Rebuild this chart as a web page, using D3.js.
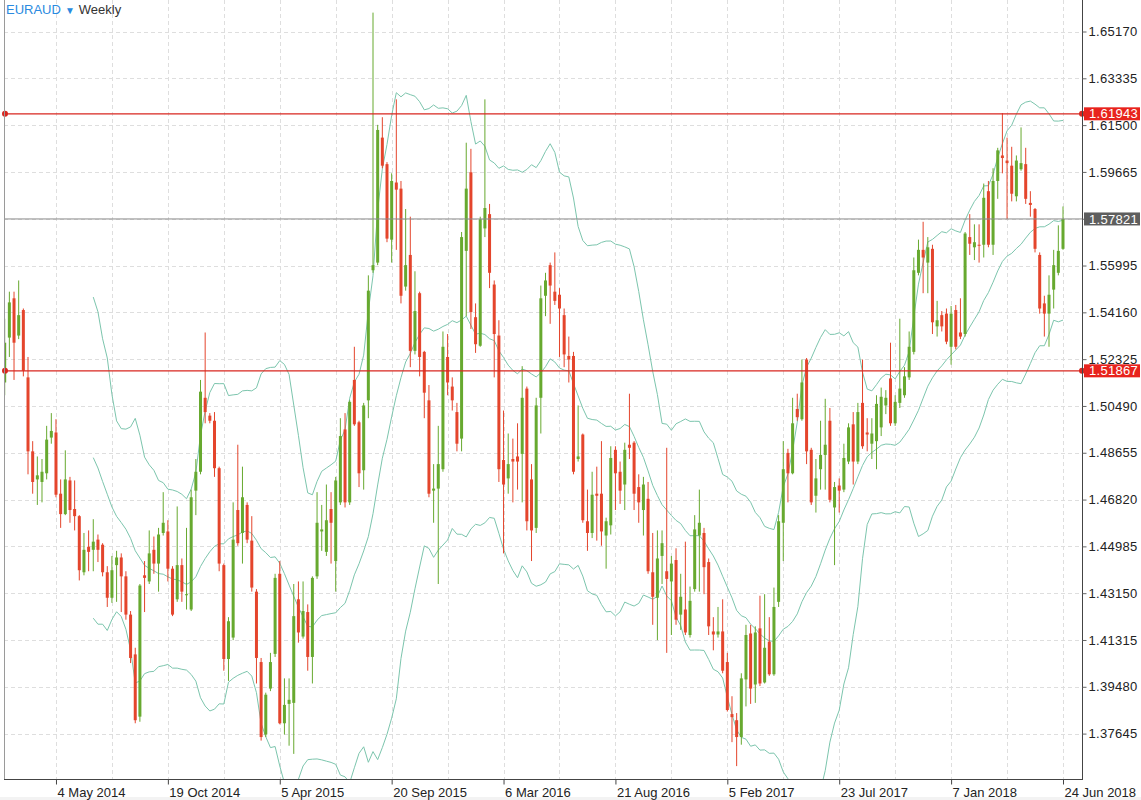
<!DOCTYPE html>
<html><head><meta charset="utf-8">
<script src="https://cdn.jsdelivr.net/npm/d3@7"></script>
<style>
html,body{margin:0;padding:0;background:#fff;}
svg{display:block;font-family:"Liberation Sans",Arial,Helvetica,sans-serif;}
</style></head><body>
<svg id="chart" width="1141" height="800"></svg>
<script>
// ---------- DATA ----------
const symbol = "EURAUD";
const period = "Weekly";
const firstWeek = "16 Feb 2014";   // date of first weekly candle
const open = [
1.5141,1.5317,1.5471,1.5325,1.5425,1.5161,1.4871,1.4761,1.4751,1.4785,1.4925,1.4945,1.4705,1.4625,1.4757,1.4645,1.4617,1.4397,1.4497,1.4485,
1.4525,1.4505,1.4397,1.4297,1.4425,1.4455,1.4381,1.4231,1.4075,1.3831,1.4385,1.4361,1.4485,1.4431,1.4551,1.4557,1.4411,1.4291,1.4425,1.4307,
1.4251,1.4717,1.4791,1.5081,1.5011,1.4991,1.4805,1.4425,1.4057,1.4141,1.4641,1.4551,1.4661,1.4521,1.4321,1.4045,1.3761,1.3941,1.4077,1.4391,
1.3805,1.3881,1.3885,1.4291,1.4145,1.4241,1.4065,1.4381,1.4557,1.4477,1.4645,1.4441,1.4671,1.4957,1.4671,1.5151,1.4985,1.4797,1.5071,1.5581,
1.5611,1.6101,1.5997,1.5701,1.5925,1.5901,1.5517,1.5641,1.5265,1.5491,1.5261,1.5071,1.4717,1.4725,1.4801,1.5241,1.5125,1.5025,1.4921,1.5657,
1.5965,1.5397,1.5285,1.5745,1.5801,1.5525,1.5325,1.4837,1.4765,1.4841,1.4851,1.4861,1.5117,1.4761,1.4571,1.5081,1.5481,1.5601,1.5497,1.5485,
1.5405,1.5245,1.5245,1.4841,1.4937,1.4597,1.4551,1.4705,1.4705,1.4541,1.4581,1.4877,1.4791,1.4741,1.4897,1.4905,1.4731,1.4641,1.4685,1.4397,
1.4297,1.4461,1.4401,1.4361,1.4445,1.4231,1.4251,1.4151,1.4331,1.4541,1.4551,1.4437,1.4165,1.4153,1.4165,1.4045,1.3841,1.3817,1.3751,1.3977,
1.4157,1.3957,1.4177,1.3965,1.4125,1.3997,1.4281,1.4591,1.4865,1.4785,1.5037,1.4997,1.5231,1.4877,1.4697,1.4801,1.4857,1.4991,1.4651,1.4737,
1.4721,1.4831,1.4977,1.4831,1.5061,1.4945,1.4901,1.4911,1.4965,1.5051,1.5157,1.4981,1.5061,1.5091,1.5161,1.5261,1.5571,1.5661,1.5611,1.5665,
1.5361,1.5405,1.5411,1.5281,1.5425,1.5337,1.5331,1.5711,1.5671,1.5681,1.5681,1.5891,1.5681,1.5931,1.6031,1.6011,1.5991,1.5871,1.5977,1.5997,
1.5845,1.5821,1.5641,1.5451,1.5411,1.5505,1.5571,1.5665];
const high = [
1.5391,1.5497,1.5497,1.5541,1.5431,1.5241,1.4911,1.4851,1.4841,1.4971,1.5021,1.4997,1.4761,1.4875,1.4771,1.4757,1.4621,1.4551,1.4561,1.4605,
1.4545,1.4511,1.4421,1.4461,1.4481,1.4471,1.4401,1.4245,1.4101,1.4351,1.4441,1.4561,1.4537,1.4571,1.4711,1.4601,1.4421,1.4655,1.4451,1.4571,
1.4721,1.4841,1.5151,1.5337,1.5021,1.5025,1.4811,1.4431,1.4221,1.4671,1.4897,1.4811,1.4671,1.4617,1.4331,1.4061,1.3925,1.4081,1.4391,1.4441,
1.3981,1.3981,1.4351,1.4361,1.4361,1.4271,1.4381,1.4711,1.4661,1.4741,1.4711,1.4771,1.5001,1.5021,1.5071,1.5281,1.4991,1.5061,1.5561,1.6591,
1.6151,1.6181,1.6005,1.5961,1.6251,1.5931,1.5821,1.5791,1.5577,1.5497,1.5265,1.5131,1.4821,1.4971,1.5341,1.5331,1.5161,1.5061,1.5731,1.6081,
1.6057,1.5451,1.5791,1.6251,1.5841,1.5541,1.5385,1.5031,1.4941,1.4921,1.4981,1.5205,1.5125,1.4821,1.5081,1.5521,1.5571,1.5611,1.5651,1.5511,
1.5431,1.5321,1.5261,1.5051,1.4941,1.4721,1.4791,1.4811,1.4911,1.4611,1.4891,1.4891,1.4831,1.4905,1.5097,1.4911,1.4781,1.4771,1.4751,1.4551,
1.4561,1.4561,1.4885,1.4461,1.4491,1.4391,1.4517,1.4341,1.4621,1.4721,1.4571,1.4451,1.4221,1.4261,1.4291,1.4081,1.3911,1.3845,1.4001,1.4191,
1.4191,1.4185,1.4305,1.4311,1.4221,1.4337,1.4621,1.4911,1.4881,1.5081,1.5097,1.5231,1.5237,1.4885,1.4841,1.4991,1.5077,1.5041,1.4751,1.4765,
1.4901,1.4981,1.5025,1.5061,1.5231,1.5001,1.5001,1.5091,1.5121,1.5111,1.5297,1.5091,1.5391,1.5201,1.5341,1.5631,1.5701,1.5771,1.5711,1.5681,
1.5461,1.5421,1.5431,1.5441,1.5445,1.5471,1.5731,1.5801,1.5761,1.5761,1.5921,1.5931,1.5981,1.6061,1.6197,1.6101,1.6065,1.6031,1.6141,1.6061,
1.5891,1.5825,1.5651,1.5481,1.5561,1.5661,1.5757,1.5831];
const low = [
1.5091,1.5241,1.5151,1.5311,1.5165,1.4781,1.4705,1.4661,1.4671,1.4761,1.4901,1.4691,1.4571,1.4621,1.4591,1.4561,1.4365,1.4385,1.4401,1.4401,
1.4437,1.4381,1.4261,1.4277,1.4281,1.4241,1.4211,1.4041,1.3805,1.3811,1.4241,1.4351,1.4391,1.4321,1.4541,1.4361,1.4225,1.4281,1.4281,1.4251,
1.4245,1.4621,1.4781,1.4981,1.4981,1.4771,1.4401,1.4011,1.3971,1.4131,1.4501,1.4431,1.4511,1.4321,1.3961,1.3737,1.3751,1.3931,1.4065,1.3801,
1.3761,1.3717,1.3685,1.4121,1.4137,1.4011,1.3961,1.4371,1.4481,1.4461,1.4431,1.4321,1.4661,1.4651,1.4661,1.4971,1.4731,1.4721,1.5001,1.5571,
1.5601,1.5981,1.5691,1.5611,1.5661,1.5451,1.5501,1.5201,1.5251,1.5165,1.5001,1.4691,1.4591,1.4351,1.4791,1.5091,1.5031,1.4871,1.4871,1.5401,
1.5351,1.5257,1.5281,1.5711,1.5511,1.5161,1.4751,1.4471,1.4705,1.4671,1.4721,1.4671,1.4561,1.4441,1.4551,1.4941,1.5401,1.5371,1.5445,1.5241,
1.5201,1.5141,1.4781,1.4831,1.4591,1.4481,1.4531,1.4521,1.4501,1.4411,1.4545,1.4641,1.4665,1.4641,1.4841,1.4641,1.4591,1.4541,1.4391,1.4191,
1.4131,1.4351,1.4081,1.4151,1.4191,1.4171,1.4151,1.4141,1.4321,1.4321,1.4311,1.4151,1.4091,1.4141,1.4001,1.3851,1.3731,1.3637,1.3721,1.3871,
1.3881,1.3885,1.3951,1.3961,1.3991,1.3991,1.4261,1.4441,1.4671,1.4781,1.4991,1.4991,1.4821,1.4661,1.4631,1.4721,1.4721,1.4671,1.4425,1.4631,
1.4711,1.4821,1.4741,1.4821,1.4881,1.4871,1.4841,1.4801,1.4931,1.5017,1.4971,1.4971,1.5041,1.5081,1.5151,1.5251,1.5561,1.5491,1.5491,1.5331,
1.5321,1.5341,1.5291,1.5211,1.5271,1.5311,1.5321,1.5641,1.5621,1.5611,1.5631,1.5671,1.5641,1.5861,1.5961,1.5781,1.5851,1.5851,1.5971,1.5841,
1.5791,1.5651,1.5411,1.5321,1.5281,1.5431,1.5561,1.5661];
const close = [
1.5297,1.5455,1.5297,1.5405,1.5187,1.4871,1.4751,1.4777,1.4791,1.4917,1.4951,1.4701,1.4625,1.4761,1.4641,1.4617,1.4405,1.4485,1.4477,1.4517,
1.4485,1.4397,1.4297,1.4405,1.4455,1.4381,1.4231,1.4061,1.3817,1.4345,1.4375,1.4471,1.4431,1.4545,1.4591,1.4411,1.4231,1.4425,1.4321,1.4311,
1.4691,1.4791,1.5105,1.5025,1.4991,1.4805,1.4431,1.4057,1.4205,1.4525,1.4511,1.4691,1.4525,1.4337,1.4061,1.3751,1.3917,1.4045,1.4375,1.3805,
1.3877,1.3897,1.4225,1.4161,1.4245,1.4065,1.4375,1.4591,1.4565,1.4601,1.4591,1.4757,1.4931,1.4671,1.5065,1.4977,1.4785,1.5051,1.5501,1.5601,
1.6131,1.5991,1.5705,1.5931,1.5897,1.5481,1.5601,1.5265,1.5421,1.5241,1.5101,1.4705,1.4725,1.4821,1.5281,1.5141,1.5071,1.4901,1.5711,1.5901,
1.5417,1.5291,1.5781,1.5825,1.5571,1.5331,1.4801,1.4741,1.4821,1.4831,1.4831,1.5081,1.4597,1.4561,1.5051,1.5471,1.5541,1.5521,1.5461,1.5431,
1.5251,1.5231,1.4791,1.4851,1.4601,1.4551,1.4701,1.4697,1.4557,1.4597,1.4845,1.4785,1.4717,1.4877,1.4885,1.4705,1.4671,1.4741,1.4401,1.4301,
1.4451,1.4511,1.4371,1.4431,1.4211,1.4301,1.4161,1.4285,1.4565,1.4591,1.4417,1.4185,1.4153,1.4165,1.4011,1.3857,1.3829,1.3751,1.3981,1.4151,
1.3941,1.4161,1.3961,1.4101,1.3997,1.4261,1.4597,1.4801,1.4785,1.4981,1.5005,1.5141,1.4871,1.4671,1.4765,1.4857,1.4897,1.4681,1.4731,1.4717,
1.4845,1.4965,1.4831,1.5025,1.4891,1.4937,1.4941,1.5057,1.5085,1.5081,1.4981,1.5065,1.5117,1.5165,1.5281,1.5581,1.5661,1.5631,1.5671,1.5377,
1.5385,1.5361,1.5301,1.5411,1.5281,1.5321,1.5725,1.5685,1.5691,1.5677,1.5865,1.5681,1.5931,1.6051,1.6021,1.6001,1.5881,1.6011,1.6001,1.5861,
1.5837,1.5665,1.5431,1.5411,1.5485,1.5601,1.5657,1.57821];

const yTickValues = [1.37645,1.39480,1.41315,1.43150,1.44985,1.46820,1.48655,1.50490,1.52325,1.54160,1.55995,1.57830,1.59665,1.61500,1.63335,1.65170];
const xTickLabels = ["4 May 2014","19 Oct 2014","5 Apr 2015","20 Sep 2015","6 Mar 2016","21 Aug 2016","5 Feb 2017","23 Jul 2017","7 Jan 2018","24 Jun 2018"];
const levelLines = [1.61943, 1.51867];
const lastPrice = 1.57821;
const bbPeriod = 20, bbMult = 2;

// ---------- LAYOUT ----------
const W = 1141, H = 800;
const plotL = 4, plotR = 1082, plotT = 0, plotB = 779;
const COL_UP = "#67a92f", COL_DN = "#e4452c", COL_BAND = "#7cc5ad",
      COL_LEVEL = "#d8261f", COL_LAST = "#8a8a8a";

const parse = d3.utcParse("%d %b %Y");
const t0 = parse(firstWeek);
const dates = close.map((_, i) => d3.utcDay.offset(t0, 7 * i));
const n = close.length;

const x = d3.scaleUtc().domain([dates[0], dates[n - 1]]).range([4.7, 1063]);
const y = d3.scaleLinear().domain([1.37645, 1.65170]).range([733.6, 31.5]);

const svg = d3.select("#chart");
svg.append("rect").attr("width", W).attr("height", H).attr("fill", "#fff");
svg.append("rect").attr("x", 0).attr("y", 797).attr("width", W).attr("height", 3).attr("fill", "#f3f3f3");

const defs = svg.append("defs");
defs.append("clipPath").attr("id", "plotclip").append("rect")
  .attr("x", plotL).attr("y", plotT).attr("width", plotR - plotL).attr("height", plotB - plotT);

// grid
const grid = svg.append("g");
grid.selectAll("line.h").data(yTickValues).join("line")
  .attr("x1", plotL).attr("x2", plotR)
  .attr("y1", d => Math.round(y(d)) + 0.5).attr("y2", d => Math.round(y(d)) + 0.5)
  .attr("stroke", "#dedede").attr("stroke-dasharray", "4,3");
const tickDates = xTickLabels.map(parse);
const vGrid = [];
for (let d = d3.utcDay.offset(tickDates[0], -84); d <= dates[n - 1]; d = d3.utcDay.offset(d, 84)) {
  if (x(d) > plotL + 2) vGrid.push(d);
}
grid.selectAll("line.v").data(vGrid).join("line")
  .attr("x1", d => Math.round(x(d)) + 0.5).attr("x2", d => Math.round(x(d)) + 0.5)
  .attr("y1", plotT).attr("y2", plotB)
  .attr("stroke", "#dedede").attr("stroke-dasharray", "4,3");

const plot = svg.append("g").attr("clip-path", "url(#plotclip)");

// Bollinger bands computed from closes
const mid = [], up = [], lo = [];
for (let i = 0; i < n; i++) {
  if (i < bbPeriod - 1) { mid.push(null); up.push(null); lo.push(null); continue; }
  const w = close.slice(i - bbPeriod + 1, i + 1);
  const m = d3.mean(w);
  const sd = Math.sqrt(d3.mean(w, v => (v - m) * (v - m)));
  mid.push(m); up.push(m + bbMult * sd); lo.push(m - bbMult * sd);
}
const line = d3.line().defined(d => d[1] != null).x(d => x(d[0])).y(d => y(d[1]));
[up, mid, lo].forEach(arr => {
  plot.append("path").datum(dates.map((d, i) => [d, arr[i]]))
    .attr("d", line).attr("fill", "none").attr("stroke", COL_BAND).attr("stroke-width", 1);
});

// candles
const candles = plot.append("g").selectAll("g").data(d3.range(n)).join("g");
candles.append("line")
  .attr("x1", i => x(dates[i])).attr("x2", i => x(dates[i]))
  .attr("y1", i => y(high[i])).attr("y2", i => y(low[i]))
  .attr("stroke", i => close[i] >= open[i] ? COL_UP : COL_DN).attr("stroke-width", 1);
candles.append("rect")
  .attr("x", i => x(dates[i]) - 1.5).attr("width", 3)
  .attr("y", i => y(Math.max(open[i], close[i])))
  .attr("height", i => Math.max(1, Math.abs(y(open[i]) - y(close[i]))))
  .attr("fill", i => close[i] >= open[i] ? COL_UP : COL_DN);

// level lines
levelLines.forEach(v => {
  const yy = y(v);
  svg.append("line").attr("x1", plotL).attr("x2", plotR).attr("y1", yy).attr("y2", yy)
    .attr("stroke", COL_LEVEL).attr("stroke-width", 1.2);
  svg.append("circle").attr("cx", plotL + 1).attr("cy", yy).attr("r", 3).attr("fill", COL_LEVEL);
  svg.append("circle").attr("cx", plotR).attr("cy", yy).attr("r", 3).attr("fill", COL_LEVEL);
});
svg.append("line").attr("x1", plotL).attr("x2", plotR).attr("y1", y(lastPrice)).attr("y2", y(lastPrice))
  .attr("stroke", COL_LAST).attr("stroke-width", 1);

// frame
svg.append("line").attr("x1", plotL + 0.5).attr("x2", plotL + 0.5).attr("y1", 0).attr("y2", plotB).attr("stroke", "#9a9a9a");
svg.append("line").attr("x1", plotR + 0.5).attr("x2", plotR + 0.5).attr("y1", 0).attr("y2", plotB).attr("stroke", "#444");
svg.append("line").attr("x1", plotL).attr("x2", plotR + 1).attr("y1", plotB + 0.5).attr("y2", plotB + 0.5).attr("stroke", "#444");

// right axis
const yAxisG = svg.append("g").attr("transform", `translate(${plotR + 0.5},0)`);
yAxisG.call(d3.axisRight(y).tickValues(yTickValues).tickFormat(d3.format(".5f")).tickSize(4).tickPadding(2))
  .call(g => g.select(".domain").remove())
  .call(g => g.selectAll("line").attr("stroke", "#666"))
  .call(g => g.selectAll("text").attr("font-size", 13).attr("fill", "#222")
    .attr("font-family", "'Liberation Sans',Arial,sans-serif").attr("letter-spacing", "0.3px"));

// price boxes
function priceBox(v, fill) {
  const yy = y(v);
  svg.append("rect").attr("x", plotR + 2).attr("y", yy - 6.5).attr("width", W - plotR - 3).attr("height", 13).attr("fill", fill);
  svg.append("text").attr("x", plotR + 7).attr("y", yy).attr("dy", "0.35em")
    .attr("font-size", 13).attr("letter-spacing", "0.3px").attr("fill", "#fff").text(d3.format(".5f")(v));
}
levelLines.forEach(v => priceBox(v, "#e8231d"));
priceBox(lastPrice, "#5e5e5e");

// bottom axis
const xAxisG = svg.append("g").attr("transform", `translate(0,${plotB + 0.5})`);
xAxisG.call(d3.axisBottom(x).tickValues(tickDates).tickFormat((d, i) => xTickLabels[i]).tickSize(5).tickPadding(3))
  .call(g => g.select(".domain").remove())
  .call(g => g.selectAll("line").attr("stroke", "#444"))
  .call(g => g.selectAll("text").attr("font-size", 13).attr("fill", "#222").attr("text-anchor", "start")
    .attr("dx", 1).attr("font-family", "'Liberation Sans',Arial,sans-serif"));

// title
const title = svg.append("text").attr("x", 6).attr("y", 14).attr("font-size", 13);
title.append("tspan").attr("fill", "#2a8ae0").text(symbol);
title.append("tspan").attr("fill", "#2a8ae0").attr("font-size", 10).attr("dx", 4).text("▼");
title.append("tspan").attr("fill", "#333").attr("dx", 4).text(period);
</script>
</body></html>
